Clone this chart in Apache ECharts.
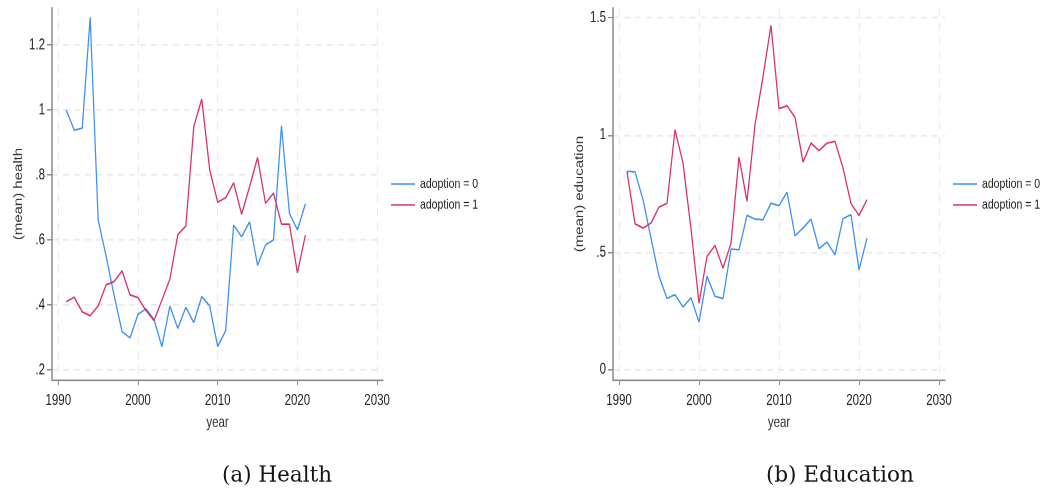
<!DOCTYPE html>
<html>
<head>
<meta charset="utf-8">
<script src="https://cdn.jsdelivr.net/npm/echarts@6/dist/echarts.min.js"></script>
<style>
  html, body { margin: 0; padding: 0; background: #fff; overflow: hidden; }
  #page { width: 1042px; height: 492px; position: relative; }
  /* the Stata panels are exported taller than wide, so the drawing is stretched vertically */
  #chart { position: absolute; left: 0; top: 0; width: 1042px; transform-origin: 0 0; }
</style>
</head>
<body>
<div id="page"><div id="chart"></div></div>
<script>
// Years covered by both panels
const years = [1991,1992,1993,1994,1995,1996,1997,1998,1999,2000,2001,2002,2003,2004,2005,2006,2007,2008,2009,2010,2011,2012,2013,2014,2015,2016,2017,2018,2019,2020,2021];

// (mean) health by adoption status
const healthAdopt0 = [1.000,0.938,0.944,1.285,0.662,0.550,0.430,0.318,0.299,0.371,0.388,0.356,0.272,0.397,0.328,0.393,0.346,0.426,0.397,0.272,0.321,0.646,0.610,0.656,0.522,0.585,0.600,0.951,0.682,0.631,0.711];
const healthAdopt1 = [0.410,0.424,0.379,0.367,0.397,0.462,0.472,0.505,0.431,0.423,0.383,0.352,0.415,0.480,0.617,0.643,0.949,1.034,0.815,0.716,0.730,0.776,0.679,0.764,0.854,0.713,0.744,0.649,0.649,0.499,0.615];

// (mean) education by adoption status
const eduAdopt0 = [0.845,0.844,0.725,0.560,0.398,0.304,0.320,0.267,0.307,0.203,0.398,0.313,0.303,0.514,0.511,0.658,0.642,0.639,0.710,0.699,0.757,0.571,0.604,0.642,0.516,0.544,0.490,0.644,0.661,0.426,0.561];
const eduAdopt1 = [0.845,0.622,0.604,0.625,0.693,0.709,1.023,0.881,0.600,0.284,0.483,0.530,0.433,0.540,0.907,0.718,1.044,1.250,1.468,1.113,1.125,1.076,0.885,0.966,0.934,0.966,0.973,0.860,0.708,0.658,0.725];

// Tick values
const yearTicks = [1990, 2000, 2010, 2020, 2030];
const healthTicks = [0.2, 0.4, 0.6, 0.8, 1.0, 1.2];
const eduTicks = [0, 0.5, 1.0, 1.5];

// Legend and caption text
const seriesNames = ['adoption = 0', 'adoption = 1'];
const captions = ['(a) Health', '(b) Education'];

const BLUE = '#3d90f5';
const RED = '#dc2f68';
const FONT = '"Liberation Sans", Arial, sans-serif';

// vertical stretch of the whole figure; layout below is given in final pixels and divided by S
const S = 1.3;
const W = 1042, H = 492;
const vy = v => v / S;

const el = document.getElementById('chart');
el.style.height = vy(H) + 'px';
el.style.transform = 'scaleY(' + S + ')';

// Stata style numbers: drop the leading zero
const stataFmt = v => {
  const r = Math.round(v * 1000) / 1000;
  return String(r).replace(/^0\./, '.').replace(/^-0\./, '-.');
};

const pairs = arr => years.map((y, i) => [y, arr[i]]);

const AXIS_GREY = '#8a8a8a';
const GRID_LINE = { show: true, lineStyle: { color: '#ebebeb', type: [6, 5], width: 1.2 } };

function xAxisFor(gridIndex, min, max) {
  return {
    type: 'value', gridIndex, min, max,
    name: 'year', nameLocation: 'middle', nameGap: 25,
    nameTextStyle: { fontFamily: FONT, fontSize: 11.5, color: '#333' },
    axisLine: { show: true, onZero: false, lineStyle: { color: AXIS_GREY, width: 1.2 } },
    axisTick: { show: true, length: vy(5), customValues: yearTicks, lineStyle: { color: AXIS_GREY, width: 1 } },
    axisLabel: { customValues: yearTicks, fontFamily: FONT, fontSize: 11.5, color: '#222', margin: 10, formatter: v => String(Math.round(v)) },
    splitLine: GRID_LINE
  };
}

function yAxisFor(gridIndex, min, max, ticks, name) {
  return {
    type: 'value', gridIndex, min, max,
    name, nameLocation: 'middle', nameGap: 27,
    nameTextStyle: { fontFamily: FONT, fontSize: 11.5, color: '#333' },
    axisLine: { show: true, onZero: false, lineStyle: { color: AXIS_GREY, width: 1.5 } },
    axisTick: { show: true, length: 5, customValues: ticks, lineStyle: { color: AXIS_GREY, width: 1 } },
    axisLabel: { customValues: ticks, fontFamily: FONT, fontSize: 11.5, color: '#222', margin: 7, formatter: stataFmt },
    splitLine: GRID_LINE
  };
}

function lineSeries(name, data, color, idx) {
  return {
    type: 'line', name, data: pairs(data),
    xAxisIndex: idx, yAxisIndex: idx,
    symbol: 'none', smooth: false,
    lineStyle: { color, width: 1.25 },
    itemStyle: { color },
    emphasis: { disabled: true }
  };
}

function legendAt(left) {
  return {
    orient: 'vertical', left, top: vy(184) - 6 - 5,
    data: seriesNames, icon: 'rect', itemWidth: 24, itemHeight: 1.2, itemGap: vy(21) - 12,
    textStyle: { fontFamily: FONT, fontSize: 10.5, color: '#222', lineHeight: 12 },
    selectedMode: false
  };
}

function caption(text, x) {
  return {
    type: 'text', x, y: vy(476), scaleY: 1 / S,
    style: { text, font: '21.5px "DejaVu Serif", "Liberation Serif", serif', fill: '#151515', textAlign: 'left', textVerticalAlign: 'middle' }
  };
}

const chart = echarts.init(el, null, { renderer: 'canvas', devicePixelRatio: 2, width: W, height: vy(H) });

chart.setOption({
  animation: false,
  backgroundColor: '#ffffff',
  grid: [
    { left: 52, top: vy(8), width: 331, height: vy(372) },
    { left: 613, top: vy(8), width: 332, height: vy(372) }
  ],
  xAxis: [
    xAxisFor(0, 1989.21, 2030.74),
    xAxisFor(1, 1989.25, 2030.75)
  ],
  yAxis: [
    yAxisFor(0, 0.1692, 1.3138, healthTicks, '(mean) health'),
    yAxisFor(1, -0.0439, 1.5418, eduTicks, '(mean) education')
  ],
  legend: [legendAt(386), legendAt(948)],
  series: [
    lineSeries(seriesNames[0], healthAdopt0, BLUE, 0),
    lineSeries(seriesNames[1], healthAdopt1, RED, 0),
    lineSeries(seriesNames[0], eduAdopt0, BLUE, 1),
    lineSeries(seriesNames[1], eduAdopt1, RED, 1)
  ],
  graphic: [caption(captions[0], 222), caption(captions[1], 766)]
});
</script>
</body>
</html>
